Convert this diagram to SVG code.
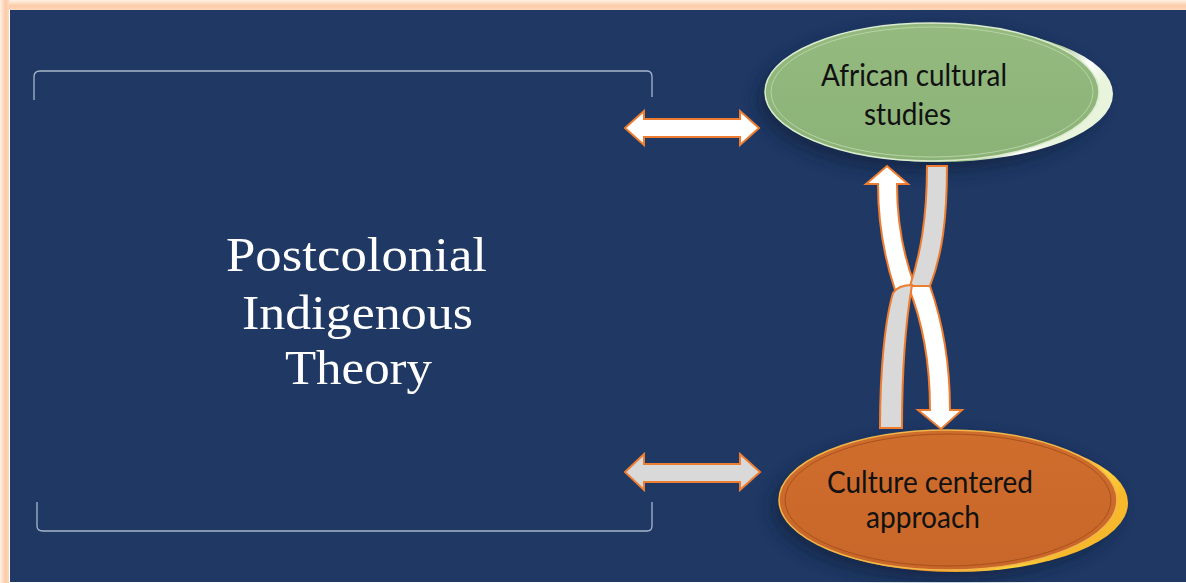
<svg xmlns="http://www.w3.org/2000/svg" width="1186" height="583" viewBox="0 0 1186 583">
  <defs>
    <linearGradient id="peachL" x1="0" y1="0" x2="1" y2="0">
      <stop offset="0" stop-color="#FFF1E6"/>
      <stop offset="0.6" stop-color="#FCCBA6"/>
      <stop offset="1" stop-color="#FFD9BD"/>
    </linearGradient>
    <linearGradient id="peachT" x1="0" y1="0" x2="0" y2="1">
      <stop offset="0" stop-color="#FFF1E6"/>
      <stop offset="0.6" stop-color="#FCCBA6"/>
      <stop offset="1" stop-color="#FFD9BD"/>
    </linearGradient>
    <linearGradient id="greenRim" x1="0" y1="0" x2="1" y2="0.3">
      <stop offset="0" stop-color="#7FA86C"/>
      <stop offset="0.8" stop-color="#9DC386"/>
      <stop offset="0.93" stop-color="#FFFFFF"/>
      <stop offset="1" stop-color="#E8F4DC"/>
    </linearGradient>
    <linearGradient id="greenFace" x1="0" y1="0" x2="0" y2="1">
      <stop offset="0" stop-color="#94BA80"/>
      <stop offset="1" stop-color="#8BB277"/>
    </linearGradient>
    <linearGradient id="orangeRim" x1="0" y1="0" x2="1" y2="0.4">
      <stop offset="0" stop-color="#B85A1E"/>
      <stop offset="0.68" stop-color="#E07F24"/>
      <stop offset="0.9" stop-color="#FFD23A"/>
      <stop offset="1" stop-color="#F7B82C"/>
    </linearGradient>
    <linearGradient id="orangeFace" x1="0" y1="0" x2="0" y2="1">
      <stop offset="0" stop-color="#CF6D2D"/>
      <stop offset="1" stop-color="#C9672A"/>
    </linearGradient>
    <filter id="shadow" x="-20%" y="-30%" width="140%" height="160%">
      <feGaussianBlur stdDeviation="8"/>
    </filter>
  </defs>
  <style>
    .bracket { fill: none; stroke: #A9B6CC; stroke-width: 1.3; }
    .arrow { stroke: #ED7D31; stroke-width: 2; stroke-linejoin: miter; }
    .white { fill: #FFFFFF; }
    .grey { fill: #D9D9D9; }
    .title { font-family: "Liberation Serif", "Times New Roman", serif; font-size: 49px; fill: #FFFFFF; }
    .label { font-family: Lato, "Open Sans", sans-serif; font-size: 30px; fill: #111111; }
  </style>

  <!-- background and frame -->
  <rect x="0" y="0" width="1186" height="583" fill="#FFFFFF"/>
  <rect x="0" y="0" width="1186" height="10" fill="url(#peachT)"/>
  <rect x="0" y="0" width="9" height="583" fill="url(#peachL)"/>
  <rect x="10" y="10" width="1176" height="572" fill="#1F3864"/>

  <!-- title area with brackets -->
  <g id="title">
    <path class="bracket" d="M34,100 L34,77 Q34,71 40,71 L647,71 Q652,71 652,77 L652,97"/>
    <path class="bracket" d="M37,502 L37,526 Q37,531 43,531 L647,531 Q652,531 652,526 L652,502"/>
    <text class="title" x="226" y="271" textLength="261" lengthAdjust="spacingAndGlyphs">Postcolonial</text>
    <text class="title" x="242" y="329" textLength="231" lengthAdjust="spacingAndGlyphs">Indigenous</text>
    <text class="title" x="285" y="384" textLength="147" lengthAdjust="spacingAndGlyphs">Theory</text>
  </g>

  <!-- node: African cultural studies -->
  <g id="african-cultural-studies">
    <ellipse cx="930" cy="100" rx="172" ry="72" fill="#0B1A36" opacity="0.55" filter="url(#shadow)"/>
    <ellipse cx="939" cy="94" rx="174" ry="68" fill="url(#greenRim)"/>
    <ellipse cx="932" cy="92" rx="167" ry="69" fill="url(#greenFace)" stroke="#DCEBCF" stroke-width="1.5"/>
    <ellipse cx="932" cy="92" rx="161" ry="65" fill="none" stroke="#B7D3A3" stroke-width="1"/>
    <text class="label" x="821" y="86" textLength="186" lengthAdjust="spacingAndGlyphs">African cultural</text>
    <text class="label" x="864" y="125" textLength="87" lengthAdjust="spacingAndGlyphs">studies</text>
  </g>

  <!-- node: Culture centered approach -->
  <g id="culture-centered-approach">
    <ellipse cx="946" cy="508" rx="174" ry="72" fill="#0B1A36" opacity="0.55" filter="url(#shadow)"/>
    <ellipse cx="955" cy="503" rx="173" ry="69" fill="url(#orangeRim)"/>
    <ellipse cx="948" cy="500" rx="169" ry="70" fill="url(#orangeFace)" stroke="#F2B64A" stroke-width="1.5"/>
    <ellipse cx="948" cy="500" rx="163" ry="66" fill="none" stroke="#A8501C" stroke-width="1"/>
    <text class="label" x="827" y="493" textLength="206" lengthAdjust="spacingAndGlyphs">Culture centered</text>
    <text class="label" x="866" y="528" textLength="114" lengthAdjust="spacingAndGlyphs">approach</text>
  </g>

  <!-- connectors -->
  <g id="connectors">
    <path class="arrow white" d="M625,128 L644,111 L644,119 L740,119 L740,111 L759,128 L740,145 L740,137 L644,137 L644,145 Z"/>
    <path class="arrow grey" d="M625,472 L644,454 L644,464 L740,464 L740,454 L760,472 L740,490 L740,482 L644,482 L644,490 Z"/>
    <path class="arrow white" d="M887,166 L908,184 L897,184 C897,225 905,260 915,286 L895,290 C885,260 878,225 878,184 L866,184 Z"/>
    <path class="arrow grey" d="M927,166 L947,166 C947,220 942,255 930,286 L910,286 C920,255 927,220 927,166 Z"/>
    <path class="arrow white" d="M908,286 L930,286 C942,320 950,360 950,410 L962,410 L941,429 L918,410 L930,410 C930,360 922,320 908,286 Z"/>
    <path class="arrow grey" d="M893,293 C897,287 903,285 912,285 C906,320 902,370 902,428 L880,428 C880,370 885,320 893,293 Z"/>
  </g>
</svg>
